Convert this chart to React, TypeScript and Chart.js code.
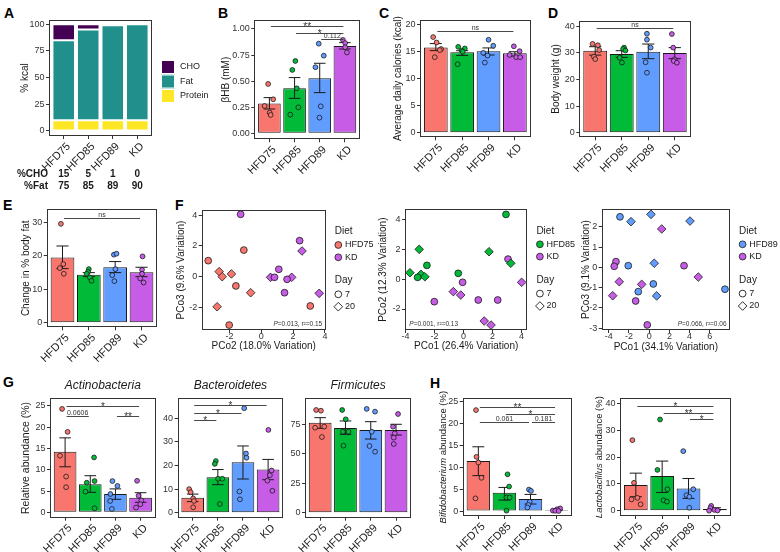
import React, { useEffect, useRef } from 'react';
import { Chart, registerables } from 'chart.js';

Chart.register(...registerables);

// ---------------- data ----------------
const groups = ['HFD75', 'HFD85', 'HFD89', 'KD'];
const groupColors = ['#F8766D', '#00BA38', '#619CFF', '#C75CE6'];

// A: diet composition (% kcal)
const macroNames = ['CHO', 'Fat', 'Protein'];
const macroColors = ['#440154', '#21908C', '#FDE725'];
const kcalProtein = [10, 10, 10, 10];
const kcalFat = [75, 85, 89, 90];
const kcalCHO = [15, 5, 1, 0];
const pctCHO = ['15', '5', '1', '0'];
const pctFat = ['75', '85', '89', '90'];
const aTicks = [0, 25, 50, 75, 100];

// B: βHB (mM)
const bhbMean = [0.285, 0.432, 0.527, 0.837];
const bhbLow = [0.233, 0.335, 0.39, 0.808];
const bhbHigh = [0.342, 0.534, 0.671, 0.869];
const bhbPoints = [[0.473, 0.326, 0.262, 0.198, 0.176], [0.693, 0.607, 0.431, 0.249, 0.179], [0.859, 0.744, 0.633, 0.259, 0.15], [0.895, 0.865, 0.825, 0.775]];
const bhbJitter = [[-0.05, 0.15, -0.19, 0.01, 0.05], [0.03, -0.09, 0.09, 0.15, -0.17], [-0.04, 0.16, -0.17, 0.04, -0.01], [-0.08, 0.01, 0.01, 0.08]];
const bhbTicks = [0, 0.25, 0.5, 0.75, 1];

// C: average daily calories
const calMean = [15.7, 14.8, 14.97, 14.6];
const calLow = [15.1, 14.23, 14.3, 14.1];
const calHigh = [16.4, 15.09, 15.6, 14.9];
const calPoints = [[17.6, 16.6, 15.4, 15.2, 13.9], [15.8, 15.5, 15.1, 14.9, 12.6], [17.1, 16.0, 14.7, 14.2, 12.9], [15.9, 15.0, 14.3, 13.9, 13.9]];
const calJitter = [[-0.1, 0.03, 0.2, 0.15, -0.04], [-0.15, 0.1, -0.02, 0.02, -0.17], [0, 0.18, -0.2, -0.04, -0.14], [-0.04, 0.18, -0.2, 0.05, 0.2]];
const calTicks = [0, 5, 10, 15, 20];

// D: body weight
const bwMean = [30.75, 29.5, 30.4, 29.9];
const bwLow = [29.1, 28.25, 27.75, 27.75];
const bwHigh = [32.25, 30.75, 33.25, 31.9];
const bwPoints = [[33.3, 32.8, 31.0, 28.5, 27.6], [31.9, 31.4, 30.8, 28.1, 26.3], [37.1, 34.9, 31.9, 26.4, 22.5], [37.0, 31.9, 27.5, 26.9, 26.25]];
const bwJitter = [[-0.1, 0.1, 0.15, -0.05, 0.0], [0.09, 0.05, 0.14, -0.08, 0.01], [-0.05, -0.05, 0.09, -0.1, -0.05], [-0.11, -0.06, -0.01, -0.04, 0.08]];
const bwTicks = [0, 10, 20, 30, 40];

// E: change in % body fat
const fatMean = [19.5, 14.35, 16.55, 15.05];
const fatLow = [16.15, 13.75, 14.95, 13.75];
const fatHigh = [22.9, 14.95, 18.25, 16.55];
const fatPoints = [[29.5, 17.5, 16.3, 14.6], [16.0, 15.2, 14.6, 13.5, 12.5], [20.3, 20.6, 16.0, 14.2, 12.4], [19.8, 15.8, 14.6, 13.2, 12.0]];
const fatJitter = [[-0.06, 0.03, -0.1, 0.05], [0, -0.03, -0.08, 0.04, 0.1], [-0.05, 0.05, 0.01, -0.11, -0.03], [0.04, 0.02, 0.02, -0.05, 0.08]];
const fatTicks = [0, 10, 20, 30];

// F: PCoA ordinations [x, y]
const f1HFD75Day7 = [[-3.34, 1.04], [-1.6, -0.6], [-2.02, -3.14], [-1.1, 1.73], [3.08, -1.9]];
const f1HFD75Day20 = [[-2.65, 0.33], [-2.46, 0.0], [-1.88, 0.18], [-2.78, -1.95], [-0.67, -1.04]];
const f1KDDay7 = [[-1.3, 4.05], [2.41, 2.34], [1.1, 0.48], [0.83, -0.04], [1.62, -0.17], [1.46, -1.04]];
const f1KDDay20 = [[2.56, 1.67], [0.58, -0.04], [1.91, -0.04], [3.64, -1.08]];
const f1XTicks = [-2, 0, 2, 4];
const f1YTicks = [-2, 0, 2, 4];

const f2HFD85Day7 = [[-3.16, 0.11], [-2.52, 0.91], [2.93, 4.31], [-0.36, 0.38]];
const f2HFD85Day20 = [[-3.05, 1.98], [-3.69, 0.42], [-2.93, 0.31], [-2.66, 0.15], [1.76, 1.82], [3.26, 1.05]];
const f2KDDay7 = [[-2.01, -1.51], [3.07, 1.33], [-0.06, -0.22], [1.02, -1.4], [2.36, -1.4]];
const f2KDDay20 = [[4.01, -0.22], [-0.7, -0.84], [-0.19, -1.07], [1.43, -2.8], [1.9, -3.07]];
const f2XTicks = [-4, -2, 0, 2, 4];
const f2YTicks = [-2, 0, 2, 4];

const f3HFD89Day7 = [[-2.89, 2.49], [-2.07, 0.08], [0.41, -0.82], [7.5, -1.08], [-1.08, -1.2]];
const f3HFD89Day20 = [[0.18, 2.61], [-1.8, 2.25], [4.04, 2.28], [0.5, 0.2], [0.74, -1.41]];
const f3KDDay7 = [[-3.29, 0.28], [-3.46, 0.05], [3.45, 0.08], [-1.34, -1.66], [-0.19, -2.84]];
const f3KDDay20 = [[1.24, 1.89], [4.86, -0.48], [-2.96, -0.71], [-0.74, -0.84], [-3.61, -1.4]];
const f3XTicks = [-4, -2, 0, 2, 4, 6];
const f3YTicks = [-3, -2, -1, 0, 1, 2];

const fStatP = ['0.013', '0.001', '0.066'];
const fStatR2 = ['0.15', '0.13', '0.06'];

// G: phyla relative abundance
const actMean = [14.25, 6.57, 4.3, 3.44];
const actLow = [10.7, 4.7, 3.05, 2.35];
const actHigh = [17.5, 8.6, 5.5, 4.6];
const actPoints = [[24.3, 18.9, 13.3, 8.4, 5.9], [12.9, 7.35, 6.96, 4.85, 0.94], [7.35, 6.2, 4.3, 2.66, 0.78], [7.4, 3.9, 2.8, 1.9, 1.1]];
const actJitter = [[-0.12, 0.1, -0.2, 0.04, 0.04], [0.15, 0.17, -0.14, -0.19, 0.17], [-0.12, 0.08, -0.2, -0.21, -0.14], [-0.14, -0.08, 0.03, -0.01, -0.18]];
const actTicks = [0, 5, 10, 15, 20, 25];

const bacMean = [6.4, 15.0, 21.4, 18.3];
const bacLow = [4.7, 11.9, 14.3, 14.0];
const bacHigh = [7.9, 18.3, 28.3, 22.6];
const bacPoints = [[10.0, 8.7, 6.1, 5.0, 2.3], [21.9, 20.7, 14.4, 14.4, 3.7], [44.3, 25.1, 23.3, 9.0, 5.7], [35.1, 17.9, 15.9, 13.6, 9.3]];
const bacJitter = [[-0.14, -0.08, 0.02, 0.05, 0.02], [-0.08, -0.12, 0.01, 0.18, 0.08], [0.05, 0.12, 0.14, -0.14, -0.12], [0.01, 0.14, 0.07, -0.03, 0.17]];
const bacTicks = [0, 10, 20, 30, 40];

const firMean = [76.3, 71.8, 70.1, 70.1];
const firLow = [71.5, 66.4, 62.4, 65.8];
const firHigh = [80.5, 77.7, 77.1, 74.9];
const firPoints = [[87.0, 86.4, 72.9, 72.0, 64.1], [87.0, 79.1, 68.6, 68.6, 56.8], [87.9, 85.6, 68.6, 56.5, 51.7], [83.6, 72.9, 67.2, 63.6, 58.2]];
const firJitter = [[-0.16, 0.03, 0.16, -0.2, 0.07], [-0.13, 0.01, -0.1, 0.12, -0.08], [-0.16, 0.17, 0.04, -0.05, 0.17], [0.08, -0.12, -0.05, -0.09, -0.09]];
const firTicks = [0, 25, 50, 75];

// H: genera abundance
const bifMean = [11.45, 4.2, 2.75, 0.23];
const bifLow = [8.1, 2.5, 1.6, 0.1];
const bifHigh = [14.7, 5.4, 3.8, 0.35];
const bifPoints = [[23.1, 12.4, 11.1, 7.6, 2.9], [8.4, 5.6, 3.1, 3.1, 0.08], [4.9, 4.6, 2.1, 1.4, 0.8], [0.6, 0.4, 0.1, 0.05, 0.0]];
const bifJitter = [[-0.09, -0.07, 0, 0.12, -0.11], [0.12, 0.18, 0.08, 0.2, 0.08], [-0.06, 0.02, -0.03, -0.08, -0.12], [0.14, 0.02, -0.14, -0.05, 0.08]];
const bifTicks = [0, 5, 10, 15, 20, 25];

const lacMean = [9.6, 12.9, 8.3, 0.6];
const lacLow = [5.2, 6.8, 4.6, 0.25];
const lacHigh = [14.0, 18.5, 12.0, 1.1];
const lacPoints = [[26.3, 10.4, 4.8, 4.2, 2.4], [34.0, 15.2, 8.0, 3.9, 3.4], [22.2, 8.0, 5.8, 5.2, 1.1], [1.8, 1.0, 0.3, 0.1, 0.0]];
const lacJitter = [[-0.13, -0.07, 0.06, -0.16, 0.18], [-0.08, -0.18, 0.2, 0.05, 0.18], [-0.2, 0.18, -0.08, 0.03, 0.03], [-0.14, -0.17, -0.02, 0.1, -0.22]];
const lacTicks = [0, 10, 20, 30, 40];

// significance brackets (category indices, y value, label)
const bhbSig = [{ from: 0, to: 3, y: 1.03, label: '**' }, { from: 1, to: 3, y: 0.965, label: '*' }, { from: 2, to: 3, y: 0.905, label: '0.112' }];
const calSig = [{ from: 0, to: 3, y: 18.8, label: 'ns' }];
const bwSig = [{ from: 0, to: 3, y: 39.1, label: 'ns' }];
const fatSig = [{ from: 0, to: 3, y: 31.2, label: 'ns' }];
const actSig = [{ from: 0, to: 3, y: 25.0, label: '*' }, { from: 0, to: 1, y: 22.7, label: '0.0606' }, { from: 2, to: 3, y: 22.7, label: '**' }];
const bacSig = [{ from: 0, to: 3, y: 45.6, label: '*' }, { from: 0, to: 2, y: 42.3, label: '*' }, { from: 0, to: 1, y: 39.5, label: '*' }];
const bifSig = [{ from: 0, to: 3, y: 23.8, label: '**' }, { from: 1, to: 3, y: 22.1, label: '*' }, { from: 0, to: 2, y: 20.4, label: '0.061' }, { from: 2, to: 3, y: 20.4, label: '0.181' }];
const lacSig = [{ from: 0, to: 3, y: 39.1, label: '*' }, { from: 1, to: 3, y: 36.3, label: '**' }, { from: 2, to: 3, y: 34.0, label: '*' }];

// ---------------- styling / helpers ----------------
const FONT = '"Liberation Sans", Arial, Helvetica, sans-serif';
const INK = '#1a1a1a';
const TICKC = '#333333';

type Box = [number, number, number, number]; // left, top, width, height
type Plot = [number, number, number, number]; // left, top, right, bottom

function fixedArea(box: Box, plot: Plot) {
  const [bl, bt, bw, bh] = box;
  const [pl, pt, pr, pb] = plot;
  return {
    padding: { left: 0, top: pt - bt, right: bl + bw - pr, bottom: 0 },
    yWidth: pl - bl,
    xHeight: bt + bh - pb,
  };
}

const gridOpts = { display: true, drawOnChartArea: false, drawTicks: true, tickLength: 3, tickWidth: 1, tickColor: TICKC, color: TICKC, offset: false };

function xCatAxis(height: number, extra: any = {}) {
  return {
    type: 'linear', min: -0.6, max: 3.6, offset: false, ...extra,
    afterBuildTicks: (sc: any) => { sc.ticks = groups.map((_, i) => ({ value: i })); },
    afterFit: (sc: any) => { sc.height = height; sc.paddingLeft = 0; sc.paddingRight = 0; },
    grid: gridOpts,
    border: { display: false },
    ticks: { autoSkip: false, maxRotation: 45, minRotation: 45, padding: 1, labelOffset: 5, color: INK, font: { family: FONT, size: 11 }, callback: (v: any) => groups[v] ?? '' },
  };
}

function yValAxis(min: number, max: number, ticks: number[], width: number, fmt: (v: number) => string, title: any, extra: any = {}) {
  return {
    type: 'linear', min, max, ...extra,
    afterBuildTicks: (sc: any) => { sc.ticks = ticks.map((v) => ({ value: v })); },
    afterFit: (sc: any) => { sc.width = width; sc.paddingTop = 0; sc.paddingBottom = 0; },
    grid: gridOpts,
    border: { display: false },
    ticks: { padding: 1.5, color: TICKC, font: { family: FONT, size: 9 }, callback: (v: any) => fmt(v) },
    title: title || { display: false },
  };
}

function yTitle(text: string, centerX: number, box: Box, size = 10) {
  const lh = size * 1.2;
  return { display: true, text, color: INK, font: { family: FONT, size }, padding: { top: centerX - box[0] - lh / 2, bottom: 0 } };
}

function xTitle(text: string, centerY: number, box: Box, size = 10) {
  const lh = size * 1.2;
  return { display: true, text, color: INK, font: { family: FONT, size }, padding: { top: 0, bottom: box[1] + box[3] - centerY - lh / 2 } };
}

const framePlugin = {
  id: 'frame',
  afterDatasetsDraw(chart: any) {
    const { ctx, chartArea: c } = chart;
    ctx.save();
    ctx.strokeStyle = '#333333';
    ctx.lineWidth = 1;
    const l = Math.round(c.left) + 0.5, t = Math.round(c.top) + 0.5;
    const r = Math.round(c.right) - 0.5, b = Math.round(c.bottom) - 0.5;
    ctx.strokeRect(l, t, r - l, b - t);
    ctx.restore();
  },
};

function errorBarPlugin(low: number[], high: number[]) {
  return {
    id: 'errbars',
    afterDatasetDraw(chart: any, args: any) {
      if (args.index !== 0) return;
      const { ctx } = chart;
      const xs = chart.scales.x, ys = chart.scales.y;
      ctx.save();
      ctx.strokeStyle = INK;
      ctx.lineWidth = 1;
      low.forEach((lo, i) => {
        const cx = xs.getPixelForValue(i);
        const hw = xs.getPixelForValue(i + 0.23) - cx;
        const y1 = ys.getPixelForValue(lo), y2 = ys.getPixelForValue(high[i]);
        ctx.beginPath();
        ctx.moveTo(cx, y1); ctx.lineTo(cx, y2);
        ctx.moveTo(cx - hw, y1); ctx.lineTo(cx + hw, y1);
        ctx.moveTo(cx - hw, y2); ctx.lineTo(cx + hw, y2);
        ctx.stroke();
      });
      ctx.restore();
    },
  };
}

function bracketPlugin(list: { from: number; to: number; y: number; label: string }[]) {
  return {
    id: 'brackets',
    afterDraw(chart: any) {
      const { ctx } = chart;
      const xs = chart.scales.x, ys = chart.scales.y;
      ctx.save();
      list.forEach((b) => {
        const x1 = xs.getPixelForValue(b.from) + 1.5, x2 = xs.getPixelForValue(b.to) - 1.5;
        const y = Math.round(ys.getPixelForValue(b.y)) + 0.5;
        ctx.strokeStyle = '#333333';
        ctx.lineWidth = 0.9;
        ctx.beginPath(); ctx.moveTo(x1, y); ctx.lineTo(x2, y); ctx.stroke();
        const star = b.label.includes('*');
        ctx.fillStyle = '#333333';
        ctx.textAlign = 'center';
        ctx.textBaseline = 'alphabetic';
        ctx.font = star ? `10px ${FONT}` : `7px ${FONT}`;
        ctx.fillText(b.label, (x1 + x2) / 2, star ? y + 3.5 : y - 1.5);
      });
      ctx.restore();
    },
  };
}

function drawParts(ctx: any, parts: { t: string; it: boolean }[], size: number, x: number, y: number, align: 'left' | 'right' | 'center') {
  const fonts = parts.map((p) => `${p.it ? 'italic ' : ''}${size}px ${FONT}`);
  let total = 0;
  const ws = parts.map((p, i) => { ctx.font = fonts[i]; const w = ctx.measureText(p.t).width; total += w; return w; });
  let cx = align === 'left' ? x : align === 'right' ? x - total : x - total / 2;
  ctx.textAlign = 'left';
  parts.forEach((p, i) => { ctx.font = fonts[i]; ctx.fillText(p.t, cx, y); cx += ws[i]; });
}

function rotatedTitlePlugin(parts: { t: string; it: boolean }[], cxCanvas: number, size: number) {
  return {
    id: 'rtitle',
    afterDraw(chart: any) {
      const { ctx, chartArea: ca } = chart;
      ctx.save();
      ctx.translate(cxCanvas, (ca.top + ca.bottom) / 2);
      ctx.rotate(-Math.PI / 2);
      ctx.fillStyle = INK;
      ctx.textBaseline = 'middle';
      drawParts(ctx, parts, size, 0, 0, 'center');
      ctx.restore();
    },
  };
}

function topTitlePlugin(text: string, yCanvas: number) {
  return {
    id: 'ttitle',
    afterDraw(chart: any) {
      const { ctx, chartArea: ca } = chart;
      ctx.save();
      ctx.fillStyle = INK;
      ctx.font = `italic 12px ${FONT}`;
      ctx.textAlign = 'center';
      ctx.textBaseline = 'middle';
      ctx.fillText(text, (ca.left + ca.right) / 2, yCanvas);
      ctx.restore();
    },
  };
}

interface BarSpec {
  box: Box; plot: Plot;
  yMin: number; yMax: number; yTicks: number[]; fmt?: (v: number) => string;
  yTitleText?: string; yTitleX?: number; yTitleSize?: number;
  yTitleParts?: { t: string; it: boolean }[];
  mean: number[]; low: number[]; high: number[];
  points: number[][]; jitter: number[][];
  brackets: { from: number; to: number; y: number; label: string }[];
  title?: string; titleY?: number;
}

function barConfig(s: BarSpec) {
  const area = fixedArea(s.box, s.plot);
  const pts: { x: number; y: number }[] = [];
  const cols: string[] = [];
  s.points.forEach((arr, g) => arr.forEach((v, k) => { pts.push({ x: g + s.jitter[g][k], y: v }); cols.push(groupColors[g]); }));
  const plugins: any[] = [errorBarPlugin(s.low, s.high), framePlugin, bracketPlugin(s.brackets)];
  if (s.title) plugins.push(topTitlePlugin(s.title, (s.titleY as number) - s.box[1]));
  if (s.yTitleParts) plugins.push(rotatedTitlePlugin(s.yTitleParts, (s.yTitleX as number) - s.box[0], s.yTitleSize || 9.5));
  const title = s.yTitleText ? yTitle(s.yTitleText, s.yTitleX as number, s.box, s.yTitleSize || 10) : null;
  return {
    type: 'bar',
    data: {
      datasets: [
        { type: 'bar', data: s.mean.map((m, i) => ({ x: i, y: m })), backgroundColor: groupColors, borderColor: INK, borderWidth: 1, borderSkipped: false, barPercentage: 0.9, categoryPercentage: 1, order: 2 },
        { type: 'scatter', data: pts, pointBackgroundColor: cols, pointBorderColor: INK, pointBorderWidth: 0.8, pointRadius: 2.4, order: 1 },
      ],
    },
    options: {
      responsive: false, animation: false, events: [],
      layout: { padding: area.padding },
      plugins: { legend: { display: false }, tooltip: { enabled: false } },
      scales: {
        x: xCatAxis(area.xHeight),
        y: yValAxis(s.yMin, s.yMax, s.yTicks, area.yWidth, s.fmt || ((v) => String(v)), title),
      },
    },
    plugins,
  };
}

// ---- Panel A ----
const A_BOX: Box = [0, 0, 230, 195];
const A_PLOT: Plot = [49, 20, 152, 136];
function buildA() {
  const area = fixedArea(A_BOX, A_PLOT);
  const series = [kcalProtein, kcalFat, kcalCHO];
  const colorIdx = [2, 1, 0];
  const extras = {
    id: 'aExtras',
    afterDraw(chart: any) {
      const { ctx } = chart;
      const xs = chart.scales.x;
      ctx.save();
      macroNames.forEach((name, i) => {
        const y0 = 60 + i * 14.5;
        ctx.fillStyle = macroColors[i];
        ctx.fillRect(161, y0, 14, 14);
        ctx.strokeStyle = '#ffffff';
        ctx.lineWidth = 1;
        ctx.strokeRect(161.5, y0 + 0.5, 13, 13);
        ctx.fillStyle = INK;
        ctx.font = `9px ${FONT}`;
        ctx.textAlign = 'left';
        ctx.textBaseline = 'middle';
        ctx.fillText(name, 180, y0 + 7);
      });
      ctx.font = `bold 10px ${FONT}`;
      ctx.fillStyle = INK;
      ctx.textBaseline = 'middle';
      ctx.textAlign = 'right';
      ctx.fillText('%CHO', 48, 174);
      ctx.fillText('%Fat', 48, 186);
      ctx.textAlign = 'center';
      groups.forEach((_, i) => {
        const x = xs.getPixelForValue(i);
        ctx.fillText(pctCHO[i], x, 174);
        ctx.fillText(pctFat[i], x, 186);
      });
      ctx.restore();
    },
  };
  return {
    type: 'bar',
    data: {
      datasets: series.map((arr, k) => ({
        type: 'bar', label: macroNames[colorIdx[k]],
        data: arr.map((v, i) => ({ x: i, y: v })),
        backgroundColor: macroColors[colorIdx[k]], borderColor: '#ffffff', borderWidth: 1, borderSkipped: false,
        barPercentage: 0.92, categoryPercentage: 1,
      })),
    },
    options: {
      responsive: false, animation: false, events: [],
      layout: { padding: area.padding },
      plugins: { legend: { display: false }, tooltip: { enabled: false } },
      scales: {
        x: xCatAxis(area.xHeight, { stacked: true }),
        y: yValAxis(-4.7, 104, aTicks, area.yWidth, (v) => String(v), yTitle('% kcal', 25, A_BOX), { stacked: true }),
      },
    },
    plugins: [framePlugin, extras],
  };
}

// ---- bar panels ----
const B_BOX: Box = [214, 0, 160, 180];
const C_BOX: Box = [386, 0, 155, 180];
const D_BOX: Box = [545, 0, 160, 180];
const E_BOX: Box = [12, 195, 160, 185];
const G1_BOX: Box = [12, 378, 150, 174];
const G2_BOX: Box = [158, 378, 130, 174];
const G3_BOX: Box = [286, 378, 130, 174];
const H1_BOX: Box = [432, 378, 145, 174];
const H2_BOX: Box = [590, 378, 150, 174];

const buildB = () => barConfig({ box: B_BOX, plot: [254.3, 20, 360, 139.3], yMin: -0.0575, yMax: 1.086, yTicks: bhbTicks, fmt: (v) => v.toFixed(2), yTitleText: 'βHB (mM)', yTitleX: 226, mean: bhbMean, low: bhbLow, high: bhbHigh, points: bhbPoints, jitter: bhbJitter, brackets: bhbSig });
const buildC = () => barConfig({ box: C_BOX, plot: [420, 20, 530.7, 137.3], yMin: -0.85, yMax: 20.74, yTicks: calTicks, yTitleText: 'Average daily calories (kcal)', yTitleX: 398.3, mean: calMean, low: calLow, high: calHigh, points: calPoints, jitter: calJitter, brackets: calSig });
const buildD = () => barConfig({ box: D_BOX, plot: [579.3, 20.7, 690.7, 137.3], yMin: -1.73, yMax: 42.0, yTicks: bwTicks, yTitleText: 'Body weight (g)', yTitleX: 556.7, mean: bwMean, low: bwLow, high: bwHigh, points: bwPoints, jitter: bwJitter, brackets: bwSig });
const buildE = () => barConfig({ box: E_BOX, plot: [46.7, 209.3, 157.3, 327.3], yMin: -1.37, yMax: 33.85, yTicks: fatTicks, yTitleText: 'Change in % body fat', yTitleX: 26, mean: fatMean, low: fatLow, high: fatHigh, points: fatPoints, jitter: fatJitter, brackets: fatSig });
const buildG1 = () => barConfig({ box: G1_BOX, plot: [50, 398.3, 155.7, 517.7], yMin: -1.27, yMax: 26.8, yTicks: actTicks, yTitleText: 'Relative abundance (%)', yTitleX: 26, yTitleSize: 10.5, mean: actMean, low: actLow, high: actHigh, points: actPoints, jitter: actJitter, brackets: actSig, title: 'Actinobacteria', titleY: 386 });
const buildG2 = () => barConfig({ box: G2_BOX, plot: [177.6, 398.3, 284.3, 517.7], yMin: -2.1, yMax: 48.5, yTicks: bacTicks, mean: bacMean, low: bacLow, high: bacHigh, points: bacPoints, jitter: bacJitter, brackets: bacSig, title: 'Bacteroidetes', titleY: 386 });
const buildG3 = () => barConfig({ box: G3_BOX, plot: [305, 398.3, 412.3, 517.7], yMin: -4.2, yMax: 96.9, yTicks: firTicks, mean: firMean, low: firLow, high: firHigh, points: firPoints, jitter: firJitter, brackets: [], title: 'Firmicutes', titleY: 386 });
const buildH1 = () => barConfig({ box: H1_BOX, plot: [462.7, 398.3, 573.3, 516], yMin: -1.14, yMax: 25.8, yTicks: bifTicks, yTitleParts: [{ t: 'Bifidobacterium', it: true }, { t: ' abundance (%)', it: false }], yTitleX: 443.5, yTitleSize: 9.5, mean: bifMean, low: bifLow, high: bifHigh, points: bifPoints, jitter: bifJitter, brackets: bifSig });
const buildH2 = () => barConfig({ box: H2_BOX, plot: [620, 398.3, 730.7, 516], yMin: -1.97, yMax: 41.9, yTicks: lacTicks, yTitleParts: [{ t: 'Lactobacillus', it: true }, { t: ' abundance (%)', it: false }], yTitleX: 599.5, yTitleSize: 9.5, mean: lacMean, low: lacLow, high: lacHigh, points: lacPoints, jitter: lacJitter, brackets: lacSig });

// ---- PCoA panels ----
interface PcoaSpec {
  box: Box; plot: Plot;
  xMin: number; xMax: number; xTicks: number[];
  yMin: number; yMax: number; yTicks: number[];
  xTitle: string; xTitleY: number; yTitle: string; yTitleX: number;
  groupIdx: number;
  g7: number[][]; g20: number[][]; k7: number[][]; k20: number[][];
  p: string; r2: string; statAlign: 'left' | 'right';
}

function pcoaConfig(s: PcoaSpec) {
  const area = fixedArea(s.box, s.plot);
  const gColor = groupColors[s.groupIdx];
  const kColor = groupColors[3];
  const mk = (pts: number[][], color: string, style: string, r: number) => ({
    type: 'scatter', data: pts.map(([x, y]) => ({ x, y })), pointStyle: style, pointRadius: r,
    pointBackgroundColor: color, pointBorderColor: INK, pointBorderWidth: 0.8,
  });
  const legend = {
    id: 'pcoaLegend',
    afterDraw(chart: any) {
      const { ctx, chartArea: ca } = chart;
      const sx = ca.right + 12.6;
      const top = ca.top;
      ctx.save();
      ctx.fillStyle = INK;
      ctx.textAlign = 'left';
      ctx.textBaseline = 'middle';
      ctx.font = `10px ${FONT}`;
      ctx.fillText('Diet', sx - 3.5, top + 21.7);
      ctx.fillText('Day', sx - 3.5, top + 70.7);
      const items: [string, string][] = [[groups[s.groupIdx], gColor], [groups[3], kColor]];
      items.forEach(([n, c], i) => {
        const y = top + 35 + i * 12.3;
        ctx.beginPath(); ctx.arc(sx, y, 3.4, 0, Math.PI * 2);
        ctx.fillStyle = c; ctx.fill();
        ctx.strokeStyle = INK; ctx.lineWidth = 0.8; ctx.stroke();
        ctx.fillStyle = INK; ctx.font = `9px ${FONT}`;
        ctx.fillText(n, sx + 6.7, y);
      });
      const y7 = top + 84.3, y20 = top + 96.7;
      ctx.strokeStyle = INK; ctx.lineWidth = 0.9;
      ctx.beginPath(); ctx.arc(sx, y7, 3.4, 0, Math.PI * 2); ctx.stroke();
      ctx.beginPath(); ctx.moveTo(sx, y20 - 4.3); ctx.lineTo(sx + 4.3, y20); ctx.lineTo(sx, y20 + 4.3); ctx.lineTo(sx - 4.3, y20); ctx.closePath(); ctx.stroke();
      ctx.fillStyle = INK; ctx.font = `9px ${FONT}`;
      ctx.fillText('7', sx + 6.7, y7);
      ctx.fillText('20', sx + 6.7, y20);
      // stat text
      ctx.fillStyle = '#333333';
      ctx.textBaseline = 'alphabetic';
      const parts = [{ t: 'P', it: true }, { t: `=${s.p}, r²=${s.r2}`, it: false }];
      if (s.statAlign === 'right') drawParts(ctx, parts, 6.5, ca.right - 3.5, ca.bottom - 4, 'right');
      else drawParts(ctx, parts, 6.5, ca.left + 4.3, ca.bottom - 4, 'left');
      ctx.restore();
    },
  };
  return {
    type: 'scatter',
    data: {
      datasets: [mk(s.g7, gColor, 'circle', 3.4), mk(s.g20, gColor, 'rectRot', 4.3), mk(s.k7, kColor, 'circle', 3.4), mk(s.k20, kColor, 'rectRot', 4.3)],
    },
    options: {
      responsive: false, animation: false, events: [],
      layout: { padding: area.padding },
      plugins: { legend: { display: false }, tooltip: { enabled: false } },
      scales: {
        x: {
          type: 'linear', min: s.xMin, max: s.xMax,
          afterBuildTicks: (sc: any) => { sc.ticks = s.xTicks.map((v) => ({ value: v })); },
          afterFit: (sc: any) => { sc.height = area.xHeight; sc.paddingLeft = 0; sc.paddingRight = 0; },
          grid: gridOpts, border: { display: false },
          ticks: { autoSkip: false, maxRotation: 0, minRotation: 0, padding: -1.5, color: TICKC, font: { family: FONT, size: 9 }, callback: (v: any) => String(v) },
          title: xTitle(s.xTitle, s.xTitleY, s.box),
        },
        y: yValAxis(s.yMin, s.yMax, s.yTicks, area.yWidth, (v) => String(v), yTitle(s.yTitle, s.yTitleX, s.box)),
      },
    },
    plugins: [framePlugin, legend],
  };
}

const F1_BOX: Box = [170, 200, 232, 156];
const F2_BOX: Box = [372, 200, 220, 156];
const F3_BOX: Box = [575, 200, 205, 156];

const buildF1 = () => pcoaConfig({ box: F1_BOX, plot: [201.7, 210, 325.7, 330], xMin: -3.75, xMax: 4.05, xTicks: f1XTicks, yMin: -3.46, yMax: 4.33, yTicks: f1YTicks, xTitle: 'PCo2 (18.0% Variation)', xTitleY: 346.7, yTitle: 'PCo3 (9.6% Variation)', yTitleX: 181.7, groupIdx: 0, g7: f1HFD75Day7, g20: f1HFD75Day20, k7: f1KDDay7, k20: f1KDDay20, p: fStatP[0], r2: fStatR2[0], statAlign: 'right' });
const buildF2 = () => pcoaConfig({ box: F2_BOX, plot: [405, 209.3, 527.3, 330], xMin: -4.03, xMax: 4.4, xTicks: f2XTicks, yMin: -3.4, yMax: 4.65, yTicks: f2YTicks, xTitle: 'PCo1 (26.4% Variation)', xTitleY: 346.7, yTitle: 'PCo2 (12.3% Variation)', yTitleX: 383.3, groupIdx: 1, g7: f2HFD85Day7, g20: f2HFD85Day20, k7: f2KDDay7, k20: f2KDDay20, p: fStatP[1], r2: fStatR2[1], statAlign: 'left' });
const buildF3 = () => pcoaConfig({ box: F3_BOX, plot: [601.7, 209.3, 730, 330], xMin: -4.7, xMax: 8.0, xTicks: f3XTicks, yMin: -3.09, yMax: 2.86, yTicks: f3YTicks, xTitle: 'PCo1 (34.1% Variation)', xTitleY: 347.3, yTitle: 'PCo3 (9.1% Variation)', yTitleX: 586.7, groupIdx: 2, g7: f3HFD89Day7, g20: f3HFD89Day20, k7: f3KDDay7, k20: f3KDDay20, p: fStatP[2], r2: fStatR2[2], statAlign: 'right' });

// ---------------- components ----------------
function ChartCanvas({ box, build }: { box: Box; build: () => any }) {
  const ref = useRef<HTMLCanvasElement>(null);
  useEffect(() => {
    const chart = new Chart(ref.current as HTMLCanvasElement, build());
    return () => chart.destroy();
  }, []);
  return (
    <canvas
      ref={ref}
      width={box[2]}
      height={box[3]}
      style={{ position: 'absolute', left: box[0], top: box[1], width: box[2], height: box[3] }}
    />
  );
}

const panelLetters: [string, number, number][] = [
  ['A', 4, 6], ['B', 218, 6], ['C', 379, 6], ['D', 548, 6],
  ['E', 3, 198], ['F', 175, 198], ['G', 3, 375], ['H', 430, 376],
];

export default function App() {
  return (
    <div style={{ position: 'absolute', left: 0, top: 0, width: 780, height: 552, background: '#ffffff', overflow: 'hidden', fontFamily: FONT }}>
      {panelLetters.map(([t, x, y]) => (
        <div key={t} style={{ position: 'absolute', left: x, top: y, fontSize: 14, lineHeight: '14px', fontWeight: 'bold', color: '#000', fontFamily: FONT }}>{t}</div>
      ))}
      <ChartCanvas box={A_BOX} build={buildA} />
      <ChartCanvas box={B_BOX} build={buildB} />
      <ChartCanvas box={C_BOX} build={buildC} />
      <ChartCanvas box={D_BOX} build={buildD} />
      <ChartCanvas box={E_BOX} build={buildE} />
      <ChartCanvas box={F1_BOX} build={buildF1} />
      <ChartCanvas box={F2_BOX} build={buildF2} />
      <ChartCanvas box={F3_BOX} build={buildF3} />
      <ChartCanvas box={G1_BOX} build={buildG1} />
      <ChartCanvas box={G2_BOX} build={buildG2} />
      <ChartCanvas box={G3_BOX} build={buildG3} />
      <ChartCanvas box={H1_BOX} build={buildH1} />
      <ChartCanvas box={H2_BOX} build={buildH2} />
    </div>
  );
}
